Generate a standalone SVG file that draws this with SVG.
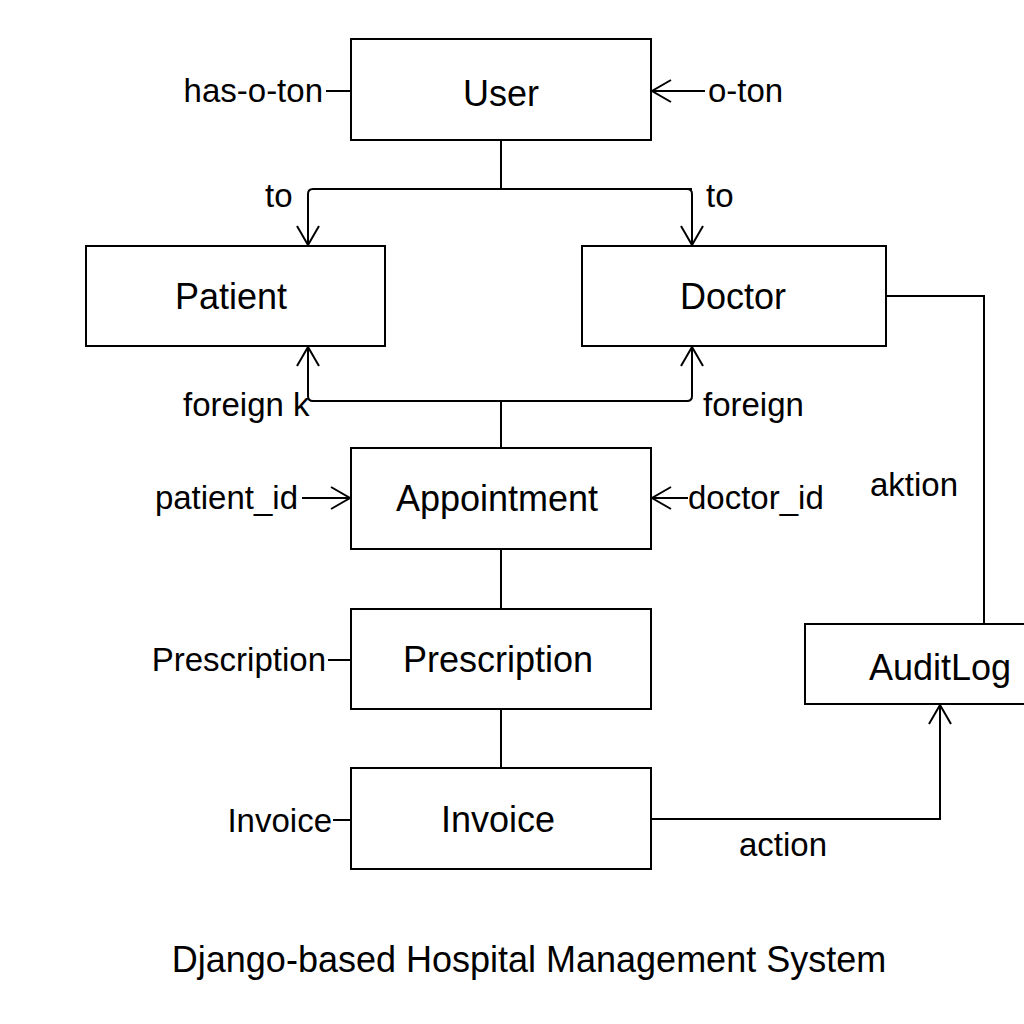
<svg xmlns="http://www.w3.org/2000/svg" width="1024" height="1024" viewBox="0 0 1024 1024">
<defs>
<marker id="arr" viewBox="0 0 24 24" refX="22" refY="12" markerWidth="24" markerHeight="24" markerUnits="userSpaceOnUse" orient="auto">
<path d="M3,1 L22,12 L3,23" fill="none" stroke="#000" stroke-width="2"/>
</marker>
<style>
.box{fill:#fff;stroke:#000;stroke-width:2}
.bl{font-family:"Liberation Sans",Arial,sans-serif;font-size:36px;fill:#000;text-anchor:middle}
.lb{font-family:"Liberation Sans",Arial,sans-serif;font-size:33px;fill:#000}
.c{fill:none;stroke:#000;stroke-width:2}
</style>
</defs>
<rect width="1024" height="1024" fill="#fff"/>
<g id="connectors">
<path class="c" d="M501,140 V189"/>
<path class="c" d="M692,189 H313 Q308,189 308,194 V245" marker-end="url(#arr)"/>
<path class="c" d="M687,189 Q692,189 692,194 V245" marker-end="url(#arr)"/>
<path class="c" d="M501,448 V401"/>
<path class="c" d="M687,401 H313 Q308,401 308,396 V347" marker-end="url(#arr)"/>
<path class="c" d="M687,401 Q692,401 692,396 V347" marker-end="url(#arr)"/>
<path class="c" d="M501,549 V609"/>
<path class="c" d="M501,709 V768"/>
<path class="c" d="M651,819 H940 V705" marker-end="url(#arr)"/>
<path class="c" d="M886,296 H984 V624"/>
<path class="c" d="M326,91 H351"/>
<path class="c" d="M705,91 H652" marker-end="url(#arr)"/>
<path class="c" d="M302,498 H350" marker-end="url(#arr)"/>
<path class="c" d="M688,498 H652" marker-end="url(#arr)"/>
<path class="c" d="M328,660 H351"/>
<path class="c" d="M333,820 H351"/>
</g>
<g id="user"><rect class="box" x="351" y="39" width="300" height="101"/><text class="bl" x="501" y="106">User</text></g>
<g id="patient"><rect class="box" x="86" y="246" width="299" height="100"/><text class="bl" x="231" y="309">Patient</text></g>
<g id="doctor"><rect class="box" x="582" y="246" width="304" height="100"/><text class="bl" x="733" y="309">Doctor</text></g>
<g id="appointment"><rect class="box" x="351" y="448" width="300" height="101"/><text class="bl" x="497" y="511">Appointment</text></g>
<g id="prescription"><rect class="box" x="351" y="609" width="300" height="100"/><text class="bl" x="498" y="672">Prescription</text></g>
<g id="invoice"><rect class="box" x="351" y="768" width="300" height="101"/><text class="bl" x="498" y="832">Invoice</text></g>
<g id="auditlog"><rect class="box" x="805" y="624" width="230" height="80"/><text class="bl" x="940" y="680">AuditLog</text></g>
<g id="labels">
<text class="lb" x="323" y="102" text-anchor="end">has-o-ton</text>
<text class="lb" x="708" y="102">o-ton</text>
<text class="lb" x="265" y="207">to</text>
<text class="lb" x="706" y="207">to</text>
<text class="lb" x="183" y="416">foreign k</text>
<text class="lb" x="703" y="416">foreign</text>
<text class="lb" x="298" y="509" text-anchor="end">patient_id</text>
<text class="lb" x="688" y="509">doctor_id</text>
<text class="lb" x="870" y="496">aktion</text>
<text class="lb" x="326" y="671" text-anchor="end">Prescription</text>
<text class="lb" x="332" y="832" text-anchor="end">Invoice</text>
<text class="lb" x="739" y="856">action</text>
<text class="bl" x="529" y="972">Django-based Hospital Management System</text>
</g>
</svg>
